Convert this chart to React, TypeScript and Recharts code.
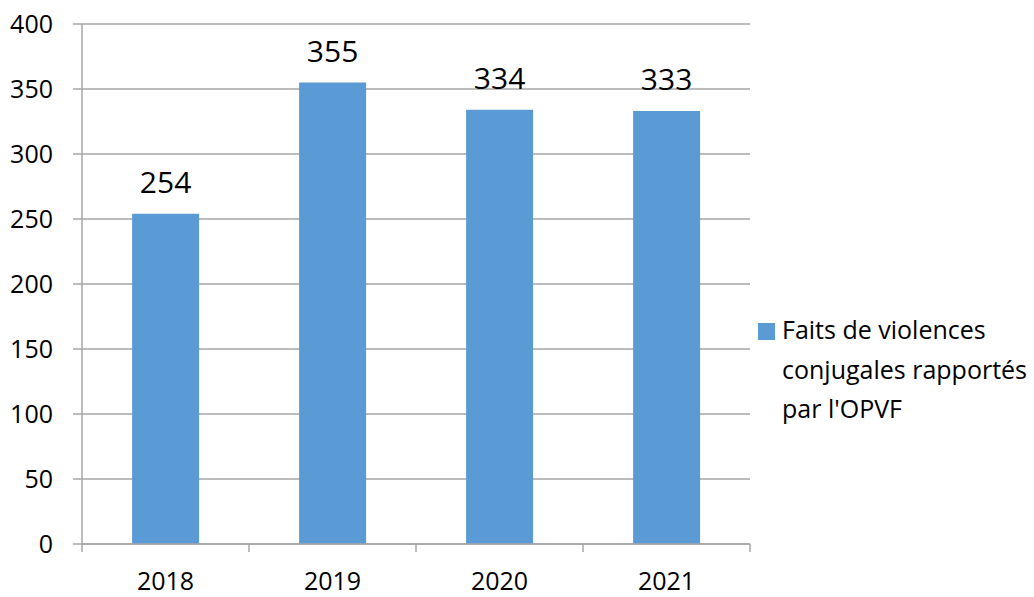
import React from 'react';
import { BarChart, Bar, XAxis, YAxis, CartesianGrid, Legend, LabelList } from 'recharts';

const years = ['2018', '2019', '2020', '2021'];
const faits = [254, 355, 334, 333];
const yTicks = [0, 50, 100, 150, 200, 250, 300, 350, 400];
const seriesName = "Faits de violences conjugales rapportés par l'OPVF";
const legendLines = ['Faits de violences', 'conjugales rapportés', "par l'OPVF"];

const data = years.map((y, i) => ({ year: y, faits: faits[i] }));

const FONT = '"Open Sans", sans-serif';
const GRID = '#A6A6A6';
const BLUE = '#5B9BD5';

// category label at the centre, tick marks on the category boundaries
function YearTick(props: any) {
  const { x, y, payload, index, width, visibleTicksCount } = props;
  const band = width / visibleTicksCount;
  const last = index === visibleTicksCount - 1;
  return (
    <g>
      <line x1={x - band / 2} x2={x - band / 2} y1={y - 8} y2={y} stroke={GRID} strokeWidth={1.5} />
      {last && <line x1={x + band / 2} x2={x + band / 2} y1={y - 8} y2={y} stroke={GRID} strokeWidth={1.5} />}
      <text x={x} y={y + 38} textAnchor="middle" fontSize={25} fill="#000" fontFamily={FONT}>
        {payload.value}
      </text>
    </g>
  );
}

function LegendBox() {
  return (
    <div style={{ display: 'flex', fontFamily: FONT, fontSize: 25, color: '#000', lineHeight: '39.5px' }}>
      <div style={{ width: 17, height: 17, background: BLUE, marginTop: 13, marginRight: 7, flexShrink: 0 }} />
      <div>
        {legendLines.map(l => <div key={l} style={{ whiteSpace: 'nowrap' }}>{l}</div>)}
      </div>
    </div>
  );
}

export default function App() {
  return (
    <div style={{ position: 'absolute', left: 0, top: 0, width: 1034, height: 597, background: '#fff' }}>
      <BarChart
        width={1034} height={597} data={data}
        margin={{ top: 24, right: 8, left: 0, bottom: 0 }}
        barCategoryGap="30%"
      >
        <CartesianGrid horizontal vertical={false} stroke={GRID} strokeWidth={1.5} />
        <XAxis
          dataKey="year" height={53}
          axisLine={{ stroke: GRID, strokeWidth: 1.5 }}
          tickLine={false}
          tick={<YearTick />}
          interval={0}
        />
        <YAxis
          width={82} domain={[0, 400]} ticks={yTicks} interval={0}
          axisLine={{ stroke: GRID, strokeWidth: 1.5 }}
          tickLine={{ stroke: GRID, strokeWidth: 1.5 }}
          tickSize={9} tickMargin={20}
          tick={{ fontSize: 25, fill: '#000', fontFamily: FONT }}
        />
        <Legend
          layout="vertical" align="right" verticalAlign="middle"
          wrapperStyle={{ left: 758, top: 310, width: 276 }}
          content={() => <LegendBox />}
        />
        <Bar dataKey="faits" name={seriesName} fill={BLUE} isAnimationActive={false}>
          <LabelList dataKey="faits" position="top" offset={21} fontSize={30} fill="#000" fontFamily={FONT} />
        </Bar>
      </BarChart>
    </div>
  );
}
